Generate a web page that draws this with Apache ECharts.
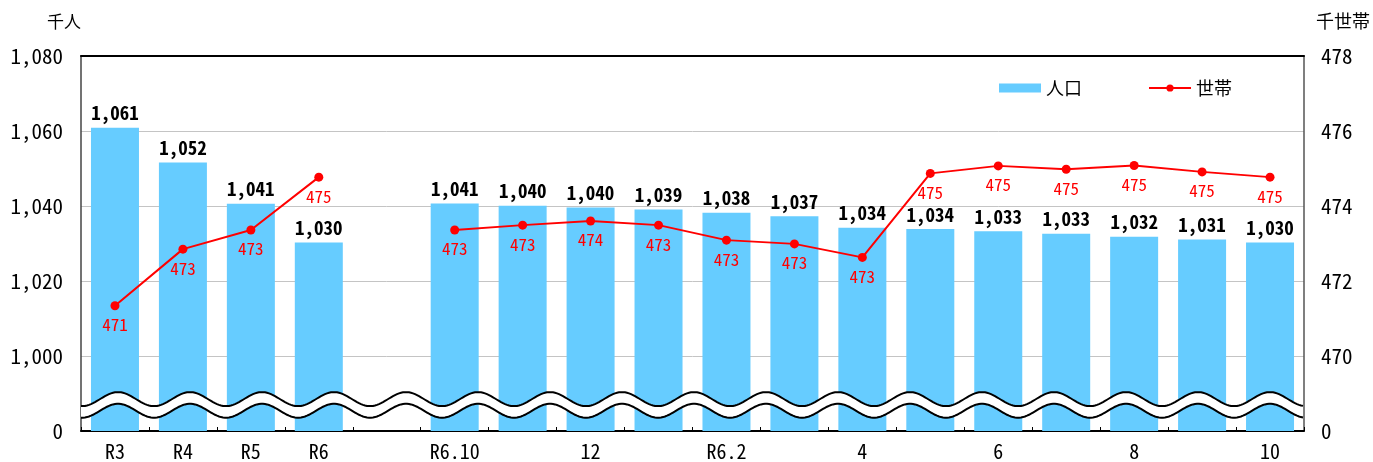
<!DOCTYPE html>
<html><head><meta charset="utf-8">
<script src="https://cdn.jsdelivr.net/npm/echarts@6/dist/echarts.min.js"></script>
<style>html,body{margin:0;padding:0;background:#fff}#c{width:1373px;height:462px}</style>
</head><body><div id="c"></div>
<script>
const categories = ['R3','R4','R5','R6','','R6.10','11','12','1','R6.2','3','4','5','6','7','8','9','10'];
const population = [1060.9,1051.6,1040.6,1030.3,null,1040.7,1040.1,1039.6,1039.1,1038.2,1037.3,1034.2,1033.9,1033.3,1032.6,1031.8,1031.1,1030.3];
const households = [471.34,472.85,473.36,474.77,null,473.36,473.49,473.6,473.49,473.09,472.99,472.63,474.87,475.07,474.98,475.08,474.91,474.77];
const leftTicks = ['0','1,000','1,020','1,040','1,060','1,080'];
const rightTicks = ['0','470','472','474','476','478'];
const popBase = 980;   // 1,000 sits one step above 0 (broken axis)
const hhBase = 468;    // 470 sits one step above 0 (broken axis)
const seriesNames = ['人口','世帯'];

const FONT = '"Noto Sans Mono CJK JP","DejaVu Sans Mono","Noto Sans CJK JP",monospace';
const fmt = n => String(Math.round(n)).replace(/\B(?=(\d{3})+(?!\d))/g, ',');

const chart = echarts.init(document.getElementById('c'), null, {renderer:'canvas'});
const option = {
  animation:false,
  backgroundColor:'#fff',
  textStyle:{fontFamily:FONT},
  grid:{left:81,right:66,top:56,bottom:31,containLabel:false},
  legend:{
    left:994, top:74, itemWidth:42, itemHeight:9, itemGap:66,
    textStyle:{fontSize:18,color:'#000',fontFamily:FONT},
    data:[{name:seriesNames[0],icon:'rect'},{name:seriesNames[1]}]
  },
  xAxis:[{
    type:'category', data:categories, position:'bottom',
    axisLine:{lineStyle:{color:'#000',width:2}},
    axisTick:{show:true,inside:true,length:4,interval:0,lineStyle:{color:'#000',width:1}},
    axisLabel:{
      interval:(i)=> i<=5 || (i-5)%2===0,
      margin:10, fontSize:20, color:'#000', fontFamily:FONT
    }
  },{
    type:'category', data:categories, position:'top',
    axisLine:{show:true,onZero:false,lineStyle:{color:'#000',width:2}},
    axisTick:{show:false}, axisLabel:{show:false}
  }],
  yAxis:[{
    type:'value', min:0, max:100, interval:20, position:'left',
    name:'千人', nameLocation:'end', nameGap:26,
    nameTextStyle:{fontSize:17,color:'#000',align:'right',fontFamily:FONT},
    axisLine:{show:true,lineStyle:{color:'#444',width:1.5}},
    axisTick:{show:false},
    splitLine:{lineStyle:{color:'#c4c4c4',width:1}},
    axisLabel:{fontSize:21,color:'#000',margin:18,fontFamily:FONT,
      formatter:(v)=>leftTicks[Math.round(v/20)]}
  },{
    type:'value', min:0, max:10, interval:2, position:'right',
    name:'千世帯', nameLocation:'end', nameGap:26,
    nameTextStyle:{fontSize:18,color:'#000',align:'left',padding:[0,0,0,12],fontFamily:FONT},
    axisLine:{show:true,lineStyle:{color:'#555',width:1.5}},
    axisTick:{show:false},
    splitLine:{show:false},
    axisLabel:{fontSize:21,color:'#000',margin:17,fontFamily:FONT,
      formatter:(v)=>rightTicks[Math.round(v/2)]}
  }],
  series:[{
    name:seriesNames[0], type:'bar', yAxisIndex:0, barWidth:48,
    itemStyle:{color:'#66CCFF'},
    data:population.map(v=> v==null ? '-' : v-popBase),
    label:{show:true,position:'top',distance:5,fontSize:19,fontWeight:'bold',color:'#000',fontFamily:FONT,
      formatter:(p)=>fmt(population[p.dataIndex])}
  },{
    name:seriesNames[1], type:'line', yAxisIndex:1, connectNulls:false,
    symbol:'circle', symbolSize:9,
    lineStyle:{color:'#FF0000',width:2}, itemStyle:{color:'#FF0000'},
    data:households.map(v=> v==null ? '-' : v-hhBase),
    label:{show:true,position:'bottom',distance:6,fontSize:17,color:'#FF0000',fontFamily:FONT,
      formatter:(p)=>fmt(households[p.dataIndex])},
    z:5
  }]
};
chart.setOption(option);

// axis-break decoration (two wavy lines with a white band between)
function drawBreak(){
  const rect = chart.getModel().getComponent('grid',0).coordinateSystem.getRect();
  const cU = chart.convertToPixel({yAxisIndex:0}, 8.5);
  const cL = chart.convertToPixel({yAxisIndex:0}, 5.4);
  const A = 7, P = 72, x0 = rect.x + 37;
  const up = [], lo = [];
  for (let x = rect.x; x <= rect.x + rect.width + 0.01; x += 2){
    const s = Math.cos(2*Math.PI*(x - x0)/P);
    up.push([x, cU - A*s]);
    lo.push([x, cL - A*s]);
  }
  chart.setOption({graphic:[
    {type:'polygon', z:100, shape:{points:up.concat(lo.slice().reverse())}, style:{fill:'#fff'}},
    {type:'polyline', z:101, shape:{points:up}, style:{stroke:'#000',lineWidth:2,fill:null}},
    {type:'polyline', z:101, shape:{points:lo}, style:{stroke:'#000',lineWidth:2,fill:null}}
  ]});
}
drawBreak();
</script>
</body></html>
